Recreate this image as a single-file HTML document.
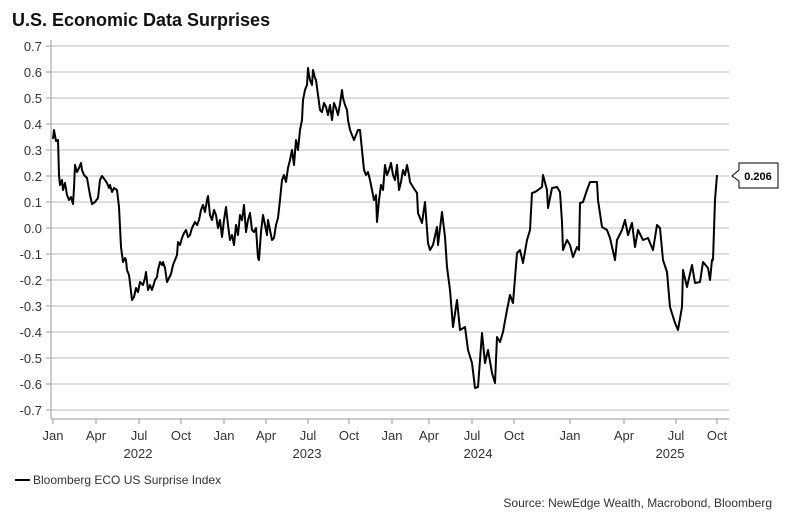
<!DOCTYPE html><html><head><meta charset="utf-8"><style>body{margin:0;background:#fff;}svg{display:block;font-family:"Liberation Sans",Arial,sans-serif;}</style></head><body>
<svg width="787" height="520" viewBox="0 0 787 520">
<text x="12" y="26" font-size="18" font-weight="bold" fill="#111">U.S. Economic Data Surprises</text>
<g stroke="#bdbdbd" stroke-width="1">
<line x1="51" x2="729" y1="46" y2="46"/><line x1="51" x2="729" y1="72" y2="72"/><line x1="51" x2="729" y1="98" y2="98"/><line x1="51" x2="729" y1="124" y2="124"/><line x1="51" x2="729" y1="150" y2="150"/><line x1="51" x2="729" y1="176" y2="176"/><line x1="51" x2="729" y1="202" y2="202"/><line x1="51" x2="729" y1="228" y2="228"/><line x1="51" x2="729" y1="254" y2="254"/><line x1="51" x2="729" y1="280" y2="280"/><line x1="51" x2="729" y1="306" y2="306"/><line x1="51" x2="729" y1="332" y2="332"/><line x1="51" x2="729" y1="358" y2="358"/><line x1="51" x2="729" y1="384" y2="384"/><line x1="51" x2="729" y1="410" y2="410"/>
</g>
<g stroke="#999" stroke-width="1"><line x1="51" y1="40" x2="51" y2="419"/><line x1="51" y1="419" x2="729" y2="419"/>
<line x1="46" x2="51" y1="46" y2="46"/><line x1="46" x2="51" y1="72" y2="72"/><line x1="46" x2="51" y1="98" y2="98"/><line x1="46" x2="51" y1="124" y2="124"/><line x1="46" x2="51" y1="150" y2="150"/><line x1="46" x2="51" y1="176" y2="176"/><line x1="46" x2="51" y1="202" y2="202"/><line x1="46" x2="51" y1="228" y2="228"/><line x1="46" x2="51" y1="254" y2="254"/><line x1="46" x2="51" y1="280" y2="280"/><line x1="46" x2="51" y1="306" y2="306"/><line x1="46" x2="51" y1="332" y2="332"/><line x1="46" x2="51" y1="358" y2="358"/><line x1="46" x2="51" y1="384" y2="384"/><line x1="46" x2="51" y1="410" y2="410"/>
<line x1="53" x2="53" y1="419" y2="424"/><line x1="96" x2="96" y1="419" y2="424"/><line x1="139" x2="139" y1="419" y2="424"/><line x1="181" x2="181" y1="419" y2="424"/><line x1="224" x2="224" y1="419" y2="424"/><line x1="266" x2="266" y1="419" y2="424"/><line x1="308" x2="308" y1="419" y2="424"/><line x1="349" x2="349" y1="419" y2="424"/><line x1="392" x2="392" y1="419" y2="424"/><line x1="429" x2="429" y1="419" y2="424"/><line x1="472" x2="472" y1="419" y2="424"/><line x1="514" x2="514" y1="419" y2="424"/><line x1="570" x2="570" y1="419" y2="424"/><line x1="624" x2="624" y1="419" y2="424"/><line x1="676" x2="676" y1="419" y2="424"/><line x1="717" x2="717" y1="419" y2="424"/>
</g>
<g font-size="13" fill="#333" text-anchor="end">
<text x="42" y="51">0.7</text><text x="42" y="77">0.6</text><text x="42" y="103">0.5</text><text x="42" y="129">0.4</text><text x="42" y="155">0.3</text><text x="42" y="181">0.2</text><text x="42" y="207">0.1</text><text x="42" y="233">0.0</text><text x="42" y="259">-0.1</text><text x="42" y="285">-0.2</text><text x="42" y="311">-0.3</text><text x="42" y="337">-0.4</text><text x="42" y="363">-0.5</text><text x="42" y="389">-0.6</text><text x="42" y="415">-0.7</text>
</g>
<g font-size="13" fill="#333" text-anchor="middle">
<text x="53" y="440">Jan</text><text x="96" y="440">Apr</text><text x="139" y="440">Jul</text><text x="181" y="440">Oct</text><text x="224" y="440">Jan</text><text x="266" y="440">Apr</text><text x="308" y="440">Jul</text><text x="349" y="440">Oct</text><text x="392" y="440">Jan</text><text x="429" y="440">Apr</text><text x="472" y="440">Jul</text><text x="514" y="440">Oct</text><text x="570" y="440">Jan</text><text x="624" y="440">Apr</text><text x="676" y="440">Jul</text><text x="717" y="440">Oct</text>
<text x="138" y="458">2022</text><text x="307" y="458">2023</text><text x="478" y="458">2024</text><text x="670" y="458">2025</text>
</g>
<polyline fill="none" stroke="#000" stroke-width="2" stroke-linejoin="round" points="53,139 54,130 56,141 58,140 59,175 60,185 62,180 63,190 65,183 67,195 69,200 71,197 73,204 74,188 75,165 77,172 79,168 81,163 82,170 84,175 87,178 90,195 92,204 95,202 98,198 100,180 102,176 105,180 107,183 109,188 110,185 112,192 114,188 117,190 119,207 121,247 123,262 125,258 126,260 127,270 129,275 130,283 132,300 134,297 136,288 138,292 140,282 143,285 145,278 146,272 148,290 150,285 152,290 155,280 157,277 158,270 160,262 162,265 163,262 165,268 167,282 169,278 171,274 173,265 175,260 177,255 178,242 180,245 182,238 184,233 186,230 188,237 190,235 192,228 195,222 197,225 199,220 201,210 203,205 205,212 207,200 208,196 210,215 212,220 214,210 216,215 218,228 220,220 222,237 224,220 226,207 228,225 230,240 232,235 234,245 236,225 238,235 240,215 242,220 244,205 246,232 248,220 250,213 252,230 254,232 256,228 258,258 259,260 261,232 263,215 265,225 267,235 268,220 270,230 272,240 274,238 276,225 278,218 280,200 282,180 284,175 286,182 288,168 290,160 292,150 294,165 296,140 298,150 300,130 302,120 303,100 305,90 307,85 308,68 309,75 310,80 312,85 313,70 315,78 316,80 318,95 320,110 322,112 324,103 326,107 328,115 330,105 332,120 334,103 336,108 338,115 340,104 342,90 343,98 345,105 347,110 348,120 350,130 352,135 354,140 356,135 358,130 360,130 362,150 364,170 366,175 368,172 370,180 372,190 374,200 376,195 377,222 379,200 381,185 383,190 385,165 387,175 389,170 391,163 393,175 395,180 397,165 399,190 401,182 403,170 405,175 407,165 409,175 410,182 413,187 417,193 418,213 422,223 425,202 428,243 430,250 433,245 437,227 438,245 442,212 445,237 447,267 450,290 453,327 457,300 460,330 465,327 468,350 472,363 475,388 478,387 482,333 485,363 488,350 492,373 495,383 497,337 500,342 503,332 507,310 510,295 513,303 517,253 520,250 523,263 527,240 530,230 532,193 535,192 538,190 542,187 543,175 547,190 548,208 552,188 557,187 560,192 562,222 563,250 567,240 570,245 573,257 577,247 579,250 580,203 583,202 587,190 590,182 597,182 598,200 602,227 607,230 610,238 615,260 617,240 622,230 625,220 628,235 632,223 635,247 638,230 643,240 648,238 653,250 657,225 660,228 663,260 667,272 670,307 675,323 678,330 682,307 683,270 687,287 692,265 695,283 700,282 703,262 708,268 710,280 712,260 713,260 715,200 717,175"/>
<path d="M739,170 L739,163 L778,163 L778,188 L739,188 L739,181 L732,176 Z" fill="#fff" stroke="#000" stroke-width="1"/>
<text x="758" y="180" font-size="11" font-weight="bold" text-anchor="middle" fill="#000">0.206</text>
<line x1="15" x2="30" y1="480" y2="480" stroke="#000" stroke-width="2"/>
<text x="33" y="484" font-size="12" fill="#333">Bloomberg ECO US Surprise Index</text>
<text x="772" y="507" font-size="12" fill="#333" text-anchor="end">Source: NewEdge Wealth, Macrobond, Bloomberg</text>
</svg></body></html>
